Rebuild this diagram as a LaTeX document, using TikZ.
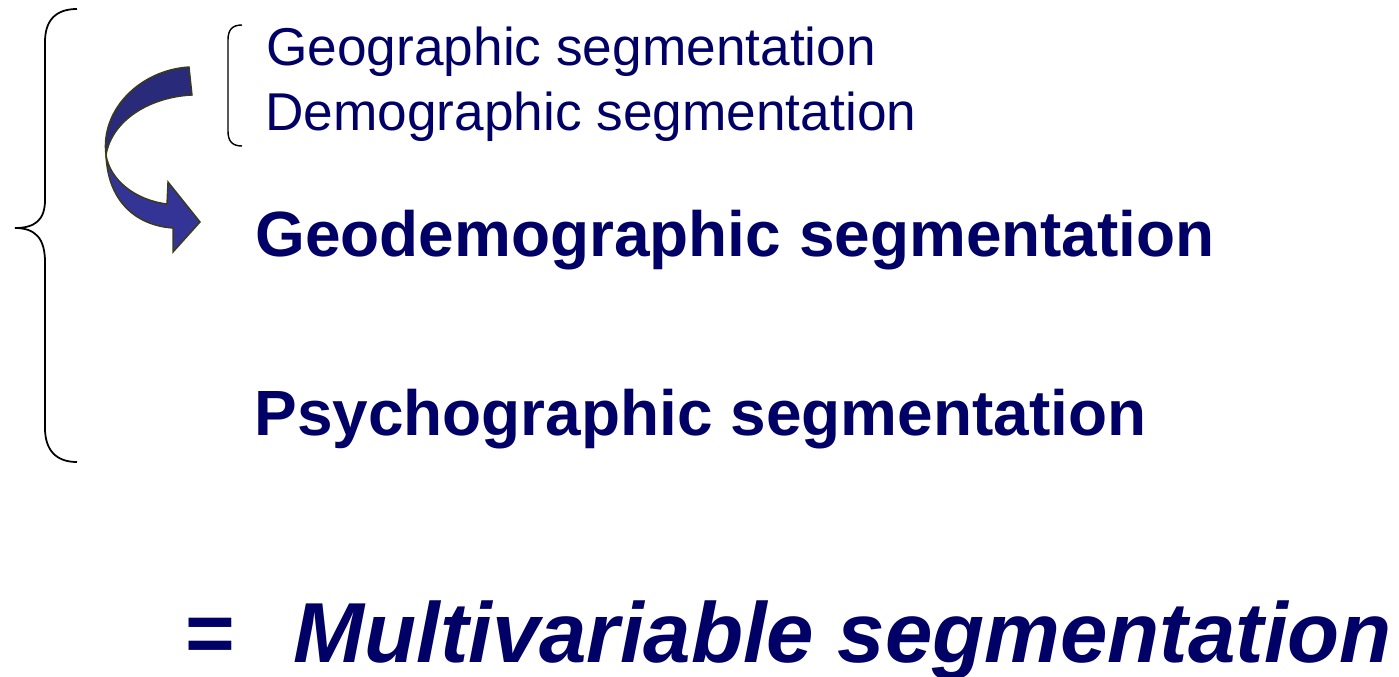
\documentclass[tikz,border=0pt]{standalone}
\usepackage{fontspec}
\setmainfont{Liberation Sans}
\usetikzlibrary{positioning}

\definecolor{navy}{RGB}{0,0,102}
\definecolor{bandtop}{RGB}{42,42,122}
\definecolor{bandlow}{RGB}{52,52,150}
\definecolor{rim}{RGB}{58,58,20}

\begin{document}
\begin{tikzpicture}[
    x=0.02cm, y=-0.02cm,
    small/.style={anchor=base west, inner sep=0pt, text=navy, font=\fontsize{30.3}{36}\selectfont},
    big/.style={anchor=base west, inner sep=0pt, text=navy, font=\fontsize{36.4}{43}\selectfont\bfseries},
    result/.style={anchor=base west, inner sep=0pt, text=navy, font=\fontsize{48.5}{58}\selectfont\bfseries},
    brace/.style={black, line width=1pt},
    band/.style={draw=rim, line width=0.8pt}
]
\useasboundingbox (0,0) rectangle (1399,676);

% Big brace
\draw[brace] (77,9) .. controls (56,9) and (45,20) .. (45,42) -- (45,200)
    .. controls (45,220) and (35,228) .. (15,228)
    .. controls (35,228) and (45,238) .. (45,262) -- (45,428)
    .. controls (45,450) and (56,462) .. (77,462);

% Small bracket
\draw[brace, line width=0.8pt] (242,25) .. controls (232,25) and (228,30) .. (228,40) -- (228,131)
    .. controls (228,141) and (232,146) .. (242,146);

% Curved arrow, upper band
\draw[band, fill=bandtop] (189,67) .. controls (140,70) and (100,110) .. (106,155)
    .. controls (112,120) and (150,97) .. (192,95) -- cycle;

% Curved arrow, lower band and head
\draw[band, fill=bandlow] (106,155) .. controls (108,205) and (140,226) .. (173,228)
    -- (173,252) -- (200,222) -- (168,182) -- (167,204)
    .. controls (135,200) and (110,180) .. (106,155) -- cycle;

% Texts
\node[small] (geo) at (266,65) {Geographic segmentation};
\node[small] (demo) at (265,130) {Demographic segmentation};
\node[big] (geodemo) at (255,256) {Geodemographic segmentation};
\node[big] (psycho) at (254,435) {Psychographic segmentation};
\node[result] (eq) at (185,662) {=};
\node[result] (multi) at (293,662) {\itshape Multivariable segmentation};

\end{tikzpicture}
\end{document}
